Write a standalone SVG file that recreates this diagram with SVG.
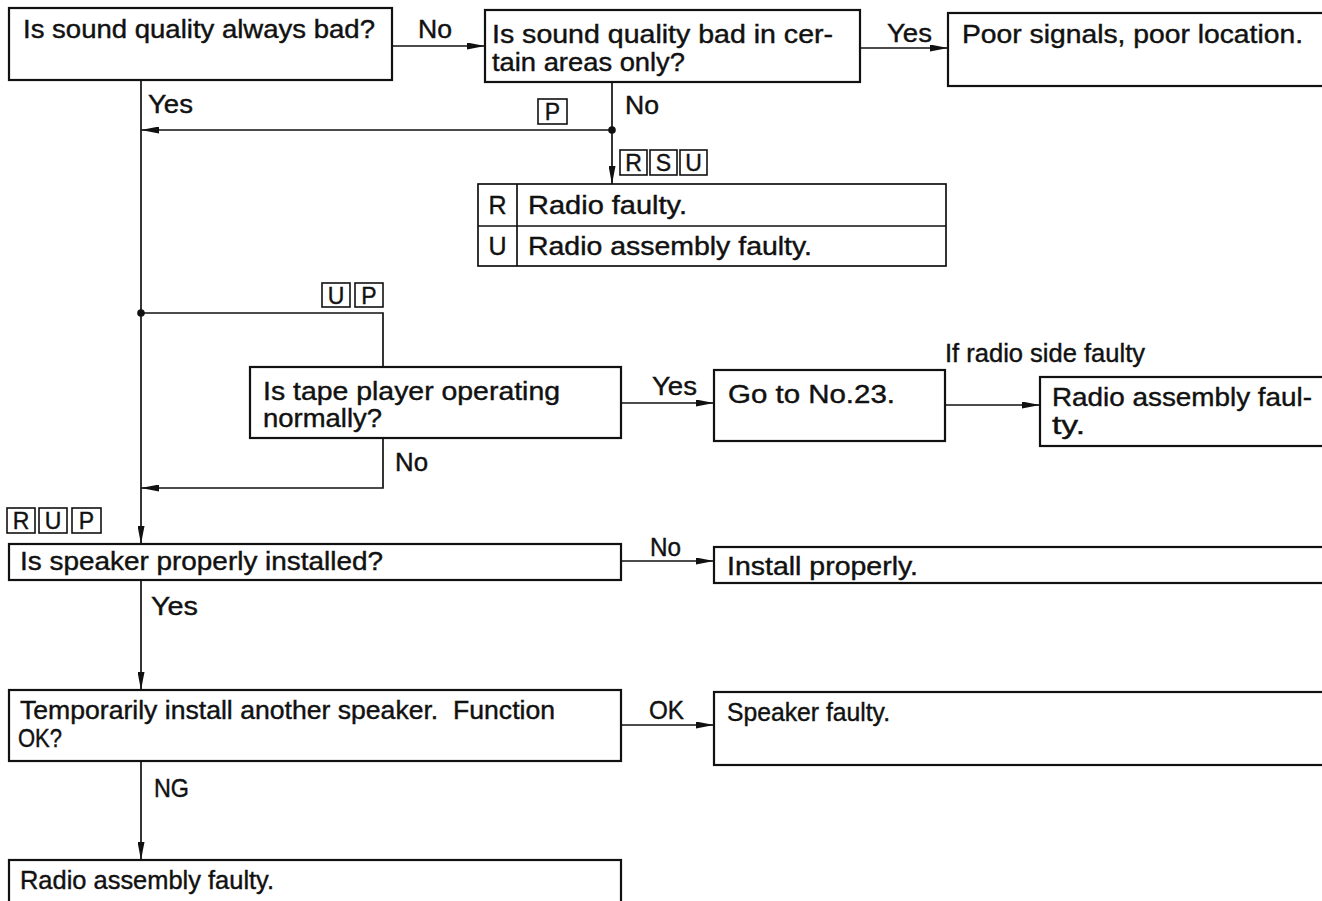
<svg xmlns="http://www.w3.org/2000/svg" width="1322" height="901" viewBox="0 0 1322 901">
<style>
  .box { fill: #fff; stroke: #111; stroke-width: 2.2; }
  .tag { fill: #fff; stroke: #111; stroke-width: 1.6; }
  .con { fill: none; stroke: #111; stroke-width: 1.7; }
  text { font-family: "Liberation Sans", Arial, sans-serif; font-size: 25px; fill: #111; stroke: #111; stroke-width: 0.4; }
  .tl { font-size: 23px; text-anchor: middle; }
</style>
<defs>
  <marker id="ah" viewBox="0 0 18 7" refX="18" refY="3.5" markerWidth="18" markerHeight="7" orient="auto" markerUnits="userSpaceOnUse">
    <path d="M0,0 L18,3.5 L0,7 z" fill="#111"/>
  </marker>
</defs>
<rect width="1322" height="901" fill="#fff"/>

<g id="connectors">
  <path class="con" d="M392,46 H485" marker-end="url(#ah)"/>
  <path class="con" d="M860,48 H948" marker-end="url(#ah)"/>
  <path class="con" d="M141,80 V544" marker-end="url(#ah)"/>
  <path class="con" d="M612,130 H141" marker-end="url(#ah)"/>
  <path class="con" d="M612,82 V184" marker-end="url(#ah)"/>
  <circle cx="612" cy="130" r="3.8" fill="#111"/>
  <circle cx="141" cy="313" r="3.8" fill="#111"/>
  <path class="con" d="M141,313 H383 V367"/>
  <path class="con" d="M383,438 V488 H141" marker-end="url(#ah)"/>
  <path class="con" d="M621,403 H714" marker-end="url(#ah)"/>
  <path class="con" d="M945,405 H1040" marker-end="url(#ah)"/>
  <path class="con" d="M621,561 H714" marker-end="url(#ah)"/>
  <path class="con" d="M141,580 V690" marker-end="url(#ah)"/>
  <path class="con" d="M621,725 H714" marker-end="url(#ah)"/>
  <path class="con" d="M141,761 V860" marker-end="url(#ah)"/>

  <text x="418" y="38" textLength="34" lengthAdjust="spacingAndGlyphs">No</text>
  <text x="887" y="42" textLength="45" lengthAdjust="spacingAndGlyphs">Yes</text>
  <text x="148" y="113" textLength="45" lengthAdjust="spacingAndGlyphs">Yes</text>
  <text x="625" y="114" textLength="34" lengthAdjust="spacingAndGlyphs">No</text>
  <text x="395" y="471" textLength="33" lengthAdjust="spacingAndGlyphs">No</text>
  <text x="652" y="395" textLength="45" lengthAdjust="spacingAndGlyphs">Yes</text>
  <text x="945" y="362" textLength="200" lengthAdjust="spacingAndGlyphs">If radio side faulty</text>
  <text x="650" y="556" textLength="31" lengthAdjust="spacingAndGlyphs">No</text>
  <text x="151" y="615" textLength="47" lengthAdjust="spacingAndGlyphs">Yes</text>
  <text x="649" y="719" textLength="35" lengthAdjust="spacingAndGlyphs">OK</text>
  <text x="154" y="797" textLength="35" lengthAdjust="spacingAndGlyphs">NG</text>

  <rect class="tag" x="538" y="99" width="29" height="25"/>
  <text class="tl" x="552.5" y="120">P</text>

  <rect class="tag" x="620" y="150" width="27" height="25"/>
  <text class="tl" x="633.5" y="171">R</text>
  <rect class="tag" x="650" y="150" width="27" height="25"/>
  <text class="tl" x="663.5" y="171">S</text>
  <rect class="tag" x="680" y="150" width="27" height="25"/>
  <text class="tl" x="693.5" y="171">U</text>

  <rect class="tag" x="322" y="283" width="28" height="24"/>
  <text class="tl" x="336" y="304">U</text>
  <rect class="tag" x="355" y="283" width="28" height="24"/>
  <text class="tl" x="369" y="304">P</text>

  <rect class="tag" x="7" y="508" width="28" height="25"/>
  <text class="tl" x="21" y="529">R</text>
  <rect class="tag" x="39" y="508" width="28" height="25"/>
  <text class="tl" x="53" y="529">U</text>
  <rect class="tag" x="72" y="508" width="29" height="25"/>
  <text class="tl" x="86.5" y="529">P</text>
</g>

<g id="n-always">
  <rect class="box" x="9" y="8" width="383" height="72"/>
  <text x="23" y="38" textLength="352" lengthAdjust="spacingAndGlyphs">Is sound quality always bad?</text>
</g>

<g id="n-areas">
  <rect class="box" x="485" y="10" width="375" height="72"/>
  <text x="492" y="43" textLength="341" lengthAdjust="spacingAndGlyphs">Is sound quality bad in cer-</text>
  <text x="492" y="71" textLength="193" lengthAdjust="spacingAndGlyphs">tain areas only?</text>
</g>

<g id="n-poor">
  <rect class="box" x="948" y="13" width="400" height="73"/>
  <text x="962" y="43" textLength="341" lengthAdjust="spacingAndGlyphs">Poor signals, poor location.</text>
</g>

<g id="n-table">
  <rect class="box" x="478" y="184" width="468" height="82" style="stroke-width:1.7"/>
  <line class="con" x1="478" y1="226" x2="946" y2="226"/>
  <line class="con" x1="517" y1="184" x2="517" y2="266"/>
  <text x="497.5" y="214" text-anchor="middle">R</text>
  <text x="528" y="214" textLength="159" lengthAdjust="spacingAndGlyphs">Radio faulty.</text>
  <text x="497.5" y="255" text-anchor="middle">U</text>
  <text x="528" y="255" textLength="284" lengthAdjust="spacingAndGlyphs">Radio assembly faulty.</text>
</g>

<g id="n-tape">
  <rect class="box" x="250" y="367" width="371" height="71"/>
  <text x="263" y="400" textLength="297" lengthAdjust="spacingAndGlyphs">Is tape player operating</text>
  <text x="263" y="427" textLength="119" lengthAdjust="spacingAndGlyphs">normally?</text>
</g>

<g id="n-goto">
  <rect class="box" x="714" y="370" width="231" height="71"/>
  <text x="728" y="403" textLength="167" lengthAdjust="spacingAndGlyphs">Go to No.23.</text>
</g>

<g id="n-radioside">
  <rect class="box" x="1040" y="377" width="300" height="69"/>
  <text x="1052" y="406" textLength="260" lengthAdjust="spacingAndGlyphs">Radio assembly faul-</text>
  <text x="1052" y="434" textLength="33" lengthAdjust="spacingAndGlyphs">ty.</text>
</g>

<g id="n-speaker">
  <rect class="box" x="9" y="544" width="612" height="36"/>
  <text x="20" y="570" textLength="363" lengthAdjust="spacingAndGlyphs">Is speaker properly installed?</text>
</g>

<g id="n-install">
  <rect class="box" x="714" y="547" width="630" height="36"/>
  <text x="727" y="575" textLength="191" lengthAdjust="spacingAndGlyphs">Install properly.</text>
</g>

<g id="n-temp">
  <rect class="box" x="9" y="690" width="612" height="71"/>
  <text x="20" y="719" textLength="535" lengthAdjust="spacingAndGlyphs" xml:space="preserve">Temporarily install another speaker.  Function</text>
  <text x="18" y="747" textLength="44" lengthAdjust="spacingAndGlyphs">OK?</text>
</g>

<g id="n-spkfaulty">
  <rect class="box" x="714" y="692" width="630" height="73"/>
  <text x="727" y="721" textLength="163" lengthAdjust="spacingAndGlyphs">Speaker faulty.</text>
</g>

<g id="n-radiofaulty">
  <rect class="box" x="9" y="860" width="612" height="50"/>
  <text x="20" y="889" textLength="254" lengthAdjust="spacingAndGlyphs">Radio assembly faulty.</text>
</g>
</svg>
